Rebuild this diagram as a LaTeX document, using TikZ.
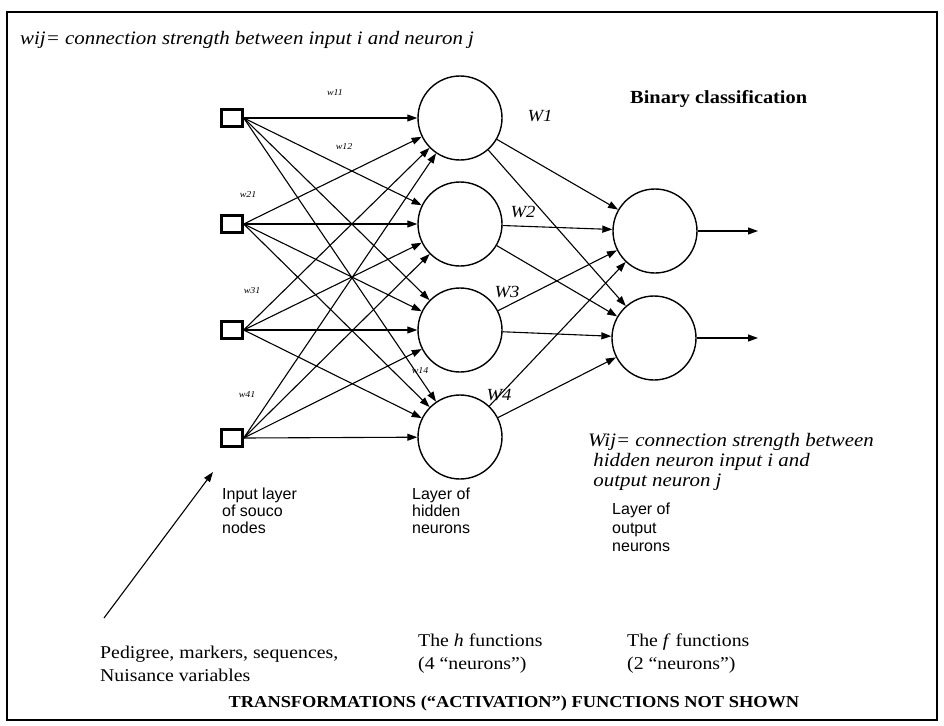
\documentclass[tikz,border=0pt]{standalone}
\usepackage{fontspec}
\setmainfont{Liberation Serif}[FakeStretch=1.1]
\setsansfont{Liberation Sans}
\usetikzlibrary{arrows.meta, positioning}
\def\nsize{84pt}
\tikzset{
    source/.style = {
        draw, rectangle, minimum width=21pt, minimum height=17pt, line width=2.4pt, inner sep=0pt
    },
    neuron/.style = {
        draw, circle, minimum size=\nsize, line width=1.4pt, inner sep=0pt
    },
    link/.style = {
        line width=1.1pt, -{Triangle[length=10pt, width=7pt]}
    },
    weight/.style = {font=\itshape\fontsize{9}{10}\selectfont, inner sep=0pt},
    wname/.style = {font=\itshape\fontsize{17}{20}\selectfont, inner sep=0pt},
    layer/.style = {font=\sffamily\fontsize{16}{17}\selectfont, align=left, anchor=north west, inner sep=0pt},
    note/.style = {font=\fontsize{18}{23}\selectfont, align=left, anchor=north west, inner sep=0pt},
}

\begin{document}
\begin{tikzpicture}[x=1pt, y=-1pt]
        \useasboundingbox (0,0) rectangle (944,725);
        % Frame
        \draw[line width=2pt] (7,12) rectangle (937,720);

        % Place the layers
        \foreach \i/\y in {1/118, 2/224, 3/330, 4/438}{
            \node[source] (in\i) at (232,\y) {};
        }
        \foreach \j/\y in {1/118, 2/224, 3/330, 4/437}{
            \node[neuron] (hid\j) at (460,\y) {};
        }
        \node[neuron] (out1) at (655,231) {};
        \node[neuron] (out2) at (654,338) {};
        \coordinate (y1) at (758,231);
        \coordinate (y2) at (758,338);

        % Draw connections
        \foreach \i in {1,...,4}{
            \foreach \j in {1,...,4}{
                \draw[link] (in\i.east) -- (hid\j);
            }
        }
        \foreach \j in {1,...,4}{
            \draw[link] (hid\j) -- (out1);
            \draw[link] (hid\j) -- (out2);
        }
        \draw[link] (out1) -- (y1);
        \draw[link] (out2) -- (y2);

        % Weights
        \node[weight] (w11) at (335,93) {w11};
        \node[weight] (w12) at (344,147) {w12};
        \node[weight] (w21) at (248,195) {w21};
        \node[weight] (w31) at (252,291) {w31};
        \node[weight] (w41) at (247,395) {w41};
        \node[weight] (w14) at (420,371) {w14};
        \node[wname] (W1) at (540,116) {W1};
        \node[wname] (W2) at (523,212) {W2};
        \node[wname] (W3) at (507,292) {W3};
        \node[wname] (W4) at (499,395) {W4};

        % Texts
        \node[note, font=\itshape\fontsize{19}{22}\selectfont] (wij) at (20,31) {wij= connection strength between input i and neuron j};
        \node[note, font=\bfseries\fontsize{18.5}{22}\selectfont] (binary) at (630,90) {Binary classification};
        \node[note, font=\itshape\fontsize{19}{20}\selectfont] (Wij) at (588,433) {Wij= connection strength between\\\ hidden neuron input i and\\\ output neuron j};
        \node[layer] (inlab) at (222,488) {Input layer\\of souco\\nodes};
        \node[layer] (hidlab) at (412,488) {Layer of\\hidden\\neurons};
        \node[layer, font=\sffamily\fontsize{16}{18.5}\selectfont] (outlab) at (612,503) {Layer of\\output\\neurons};
        \node[note] (data) at (100,646) {Pedigree, markers, sequences,\\Nuisance variables};
        \node[note] (hfun) at (418,634) {The \textit{h} functions\\(4 “neurons”)};
        \node[note] (ffun) at (627,634) {The \textit{f} functions\\(2 “neurons”)};
        \node[font=\bfseries\fontsize{16.7}{20}\selectfont, inner sep=0pt] (title) at (514,703) {TRANSFORMATIONS (“ACTIVATION”) FUNCTIONS NOT SHOWN};

        % Input arrow
        \coordinate (src) at (104,618);
        \coordinate (feed) at (213,472);
        \draw[line width=1.1pt, -{Triangle[length=10pt, width=7pt]}] (src) -- (feed);
    \end{tikzpicture}
\end{document}
